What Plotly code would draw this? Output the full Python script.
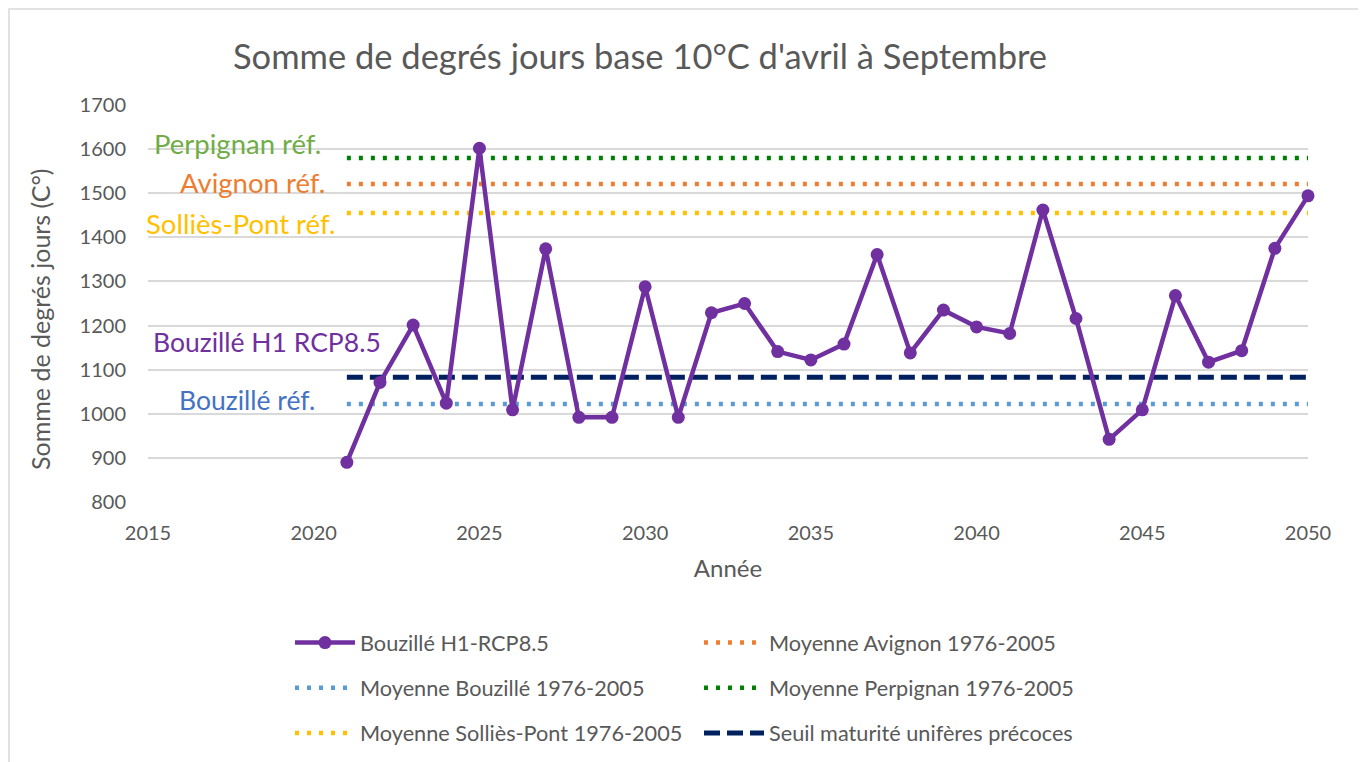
import plotly.graph_objects as go

years = list(range(2021, 2051))
bouzille_h1 = [890, 1071, 1201, 1024, 1602, 1009, 1374, 992, 992, 1288,
               992, 1229, 1250, 1141, 1122, 1158, 1361, 1138, 1235, 1197,
               1182, 1462, 1216, 942, 1009, 1268, 1117, 1143, 1375, 1494]
ref_span = [2021, 2050]
moy_avignon = 1521
moy_bouzille = 1022
moy_perpignan = 1580
moy_sollies = 1455
seuil = 1083

FONT = "Lato"
GREY = "#595959"

fig = go.Figure()

def hline(val, name, color, dash, width, legend, group, rank):
    fig.add_trace(go.Scatter(
        x=ref_span, y=[val, val], mode="lines", name=name,
        line=dict(color=color, dash=dash, width=width),
        legend=legend, legendgroup=group, legendrank=rank, hoverinfo="skip"))

# reference lines (drawn beneath the purple series)
hline(moy_bouzille, "Moyenne Bouzillé 1976-2005", "#5B9BD5", "4px,8px", 4.5, "legend", "a2", 2)
hline(moy_sollies, "Moyenne Solliès-Pont 1976-2005", "#FFC000", "4px,8px", 4.5, "legend", "a3", 3)
hline(moy_avignon, "Moyenne Avignon 1976-2005", "#ED7D31", "4px,8px", 4.5, "legend2", "b1", 1)
hline(moy_perpignan, "Moyenne Perpignan 1976-2005", "#008000", "4px,8px", 4.5, "legend2", "b2", 2)
hline(seuil, "Seuil maturité unifères précoces", "#002060", "16px,7px", 5, "legend2", "b3", 3)

fig.add_trace(go.Scatter(
    x=years, y=bouzille_h1, mode="lines+markers", name="Bouzillé H1-RCP8.5",
    line=dict(color="#7030A0", width=4.5),
    marker=dict(color="#7030A0", size=13),
    cliponaxis=False, legend="legend", legendgroup="a1", legendrank=1))

# page body adds an 8px offset; layout positions below are in figure pixels
OFF = 8
W, H = 1366, 762
L, R, T, B = 148 - OFF, 1308 - OFF, 105 - OFF, 502 - OFF
def px(x):
    return (x - OFF - L) / (R - L)
def py(y):
    return (B - (y - OFF)) / (B - T)

labels = [
    ("Perpignan réf.", "#70AD47", 323, 143, 27.5),
    ("Avignon réf.", "#ED7D31", 327, 182, 27.5),
    ("Solliès-Pont réf.", "#FFC000", 337, 223, 27.5),
    ("Bouzillé H1 RCP8.5", "#7030A0", 383, 342, 26.5),
    ("Bouzillé réf.", "#4472C4", 317, 400, 26.5),
]
for text, color, xr, yc, fs in labels:
    fig.add_annotation(text=text, xref="paper", yref="paper", x=px(xr), y=py(yc),
                       xanchor="right", yanchor="middle", showarrow=False,
                       font=dict(family=FONT, size=fs, color=color))

# y axis title
fig.add_annotation(text="Somme de degrés jours (C°)", xref="paper", yref="paper",
                   x=px(40), y=py(320), xanchor="center", yanchor="middle",
                   textangle=-90, showarrow=False,
                   font=dict(family=FONT, size=25, color=GREY))

# outer chart border (as close to the page corner as the figure allows)
fig.add_shape(type="rect", xref="paper", yref="paper",
              x0=(1 - L) / (R - L), x1=px(1361), y0=(B - 1) / (B - T), y1=py(775),
              line=dict(color="#D9D9D9", width=1.5), layer="below")

legend_common = dict(orientation="v", yanchor="top", xanchor="left",
                     yref="container", xref="container",
                     font=dict(family=FONT, size=21.7, color=GREY),
                     tracegroupgap=14, itemwidth=60, bgcolor="rgba(0,0,0,0)",
                     traceorder="grouped")

fig.update_layout(
    width=W, height=H,
    margin=dict(l=L, r=W - R, t=T, b=H - B, autoexpand=False),
    paper_bgcolor="white", plot_bgcolor="white",
    font=dict(family=FONT, color=GREY),
    title=dict(text="Somme de degrés jours base 10°C d'avril à Septembre",
               x=(640 - OFF) / W, xanchor="center", y=1 - (57 - OFF) / H,
               yanchor="middle",
               font=dict(family=FONT, size=34.5, color=GREY)),
    xaxis=dict(range=[2015, 2050], dtick=5, tick0=2015, showgrid=False,
               zeroline=False, showline=False, ticks="", automargin=False,
               ticklabelstandoff=17,
               tickfont=dict(family=FONT, size=20, color=GREY),
               title=dict(text="Année", font=dict(family=FONT, size=24, color=GREY),
                          standoff=17)),
    yaxis=dict(range=[800, 1700], dtick=100, tick0=800, showgrid=True,
               gridcolor="#D9D9D9", gridwidth=1.5, zeroline=False, showline=False,
               ticks="", ticklabelstandoff=21, automargin=False,
               tickfont=dict(family=FONT, size=20, color=GREY)),
    legend=dict(x=(290 - OFF) / W, y=1 - (622 - OFF) / H, **legend_common),
    legend2=dict(x=(699 - OFF) / W, y=1 - (622 - OFF) / H, **legend_common),
    showlegend=True,
)

fig.write_html("out.html")
